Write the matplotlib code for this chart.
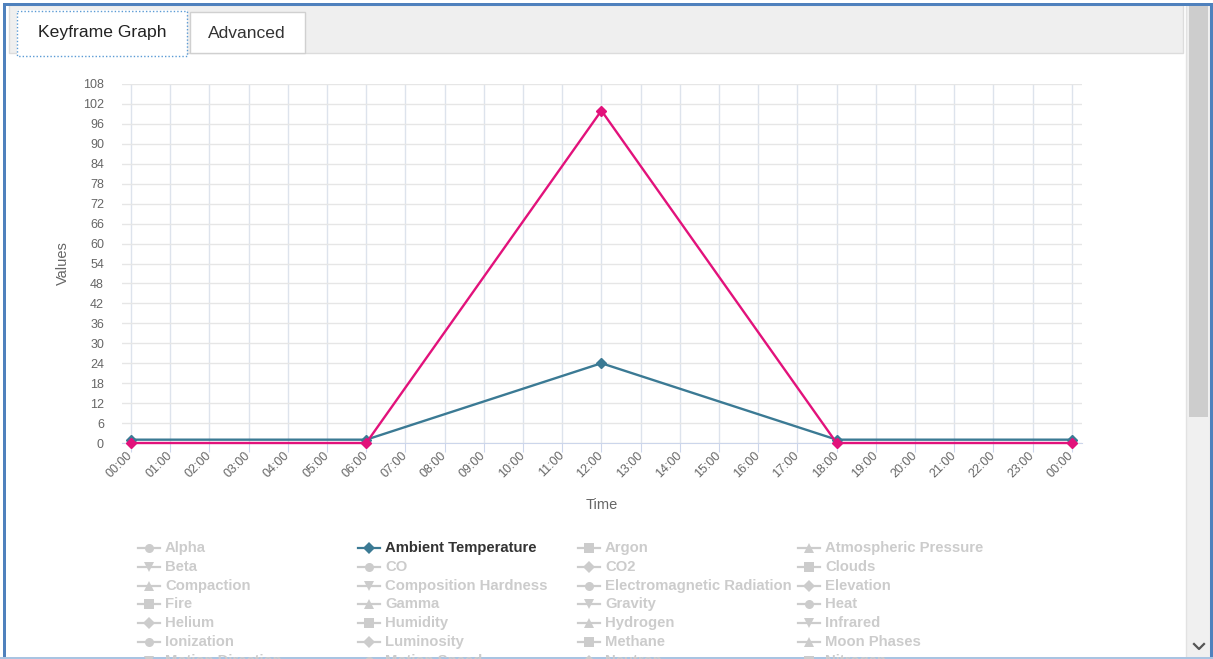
import matplotlib
matplotlib.use('Agg')
import matplotlib.pyplot as plt
from matplotlib.patches import Rectangle
from matplotlib.lines import Line2D

plt.rcParams['font.family'] = ['Liberation Sans', 'DejaVu Sans']

# chart data
hours = [0, 6, 12, 18, 24]
ambient_temperature = [1, 1, 24, 1, 1]
pink_series = [0, 0, 100, 0, 0]
hour_labels = ['%02d:00' % (h % 24) for h in range(25)]
y_ticks = list(range(0, 109, 6))

legend_names = ['Alpha', 'Ambient Temperature', 'Argon', 'Atmospheric Pressure',
                'Beta', 'CO', 'CO2', 'Clouds',
                'Compaction', 'Composition Hardness', 'Electromagnetic Radiation', 'Elevation',
                'Fire', 'Gamma', 'Gravity', 'Heat',
                'Helium', 'Humidity', 'Hydrogen', 'Infrared',
                'Ionization', 'Luminosity', 'Methane', 'Moon Phases',
                'Motion Direction', 'Motion Speed', 'Neutron', 'Nitrogen']
legend_visible = ['Ambient Temperature']
symbols = ['o', 'D', 's', '^', 'v']

teal = '#3b7a94'
pink = '#e2127b'

W, H = 1213, 659
fig = plt.figure(figsize=(W / 100, H / 100), dpi=100)
fig.patch.set_facecolor('white')

# page chrome drawn in pixel coordinates
ui = fig.add_axes([0, 0, 1, 1], zorder=0)
ui.set_xlim(0, W)
ui.set_ylim(H, 0)
ui.axis('off')

def rect(x0, y0, x1, y1, fc, ec='none', lw=1, ls='-'):
    ui.add_patch(Rectangle((x0, y0), x1 - x0, y1 - y0, facecolor=fc,
                           edgecolor=ec, lw=lw, ls=ls))

rect(9, 5, 1183, 53, '#efefef', '#dcdcdc')
rect(17, 10, 187, 57, 'white')
ui.add_patch(Rectangle((17, 11), 170, 45, facecolor='none', edgecolor='#5b9bd5',
                       lw=1, ls=(0, (1, 1.5))))
rect(190, 12, 305, 53, 'white', '#d0d0d0')
ui.text(102, 33, 'Keyframe Graph', fontsize=12.6, color='#222222', ha='center', va='center')
ui.text(247, 33, 'Advanced', fontsize=12.6, color='#333333', ha='center', va='center')

# scrollbar
rect(1186, 5, 1210, 659, '#f0f0f0', '#e2e2e2')
rect(1189, 6, 1208, 417, '#cdcdcd')
ui.add_line(Line2D([1194, 1199, 1204], [644, 649, 644], color='#555555', lw=1.6))

# outer frame
rect(3, 3, 1213, 6, '#4f81bd')
rect(3, 3, 6, 659, '#4f81bd')
rect(1210, 3, 1213, 659, '#4f81bd')
rect(0, 657, 1213, 659, '#a9c4e2')

# legend (fixed-width items, 4 per row)
for i, name in enumerate(legend_names):
    row, col = divmod(i, 4)
    x0 = 138 + 220 * col
    y0 = 548 + 18.8 * row
    on = name in legend_visible
    c = teal if on else '#cccccc'
    ui.add_line(Line2D([x0, x0 + 22], [y0, y0], color=c, lw=1.6))
    ui.add_line(Line2D([x0 + 11], [y0], marker=symbols[i % 5], color=c,
                       markersize=6.5, markeredgewidth=0))
    ui.text(x0 + 27, y0, name, fontsize=10.7, fontweight='bold',
            color='#333333' if on else '#cccccc', ha='left', va='center')

# main chart
ax = fig.add_axes([122 / W, (H - 443) / H, 960 / W, 359 / H], zorder=1)
ax.set_facecolor('none')
ax.plot(hours, ambient_temperature, color=teal, lw=1.7, marker='D', markersize=5,
        zorder=3, clip_on=False)
ax.plot(hours, pink_series, color=pink, lw=1.7, marker='D', markersize=5,
        zorder=4, clip_on=False)

ax.set_xlim(-0.23, 24.26)
ax.set_ylim(0, 108)
ax.set_xticks(range(25))
ax.set_xticklabels(hour_labels)
ax.set_yticks(y_ticks)
for lbl in ax.get_xticklabels():
    lbl.set_rotation(45)
    lbl.set_ha('right')
    lbl.set_va('center')
    lbl.set_rotation_mode('anchor')
ax.tick_params(axis='x', length=6.5, color='#ccd6eb', labelsize=9, labelcolor='#666666', pad=1)
ax.tick_params(axis='y', length=0, labelsize=9, labelcolor='#666666', pad=13)
ax.grid(axis='y', color='#e6e6e6', lw=1)
ax.grid(axis='x', color='#dde3ec', lw=1)
ax.set_axisbelow(True)
for s in ['top', 'right', 'left']:
    ax.spines[s].set_visible(False)
ax.spines['bottom'].set_color('#ccd6eb')
ax.spines['bottom'].set_zorder(2)

ax.set_xlabel('Time', fontsize=10.5, color='#666666')
ax.xaxis.set_label_coords(0.5, -0.173)
ax.xaxis.label.set_va('center')
ax.set_ylabel('Values', fontsize=10.5, color='#666666')
ax.yaxis.set_label_coords(-0.0615, 0.5)
ax.yaxis.label.set_va('center')

fig.savefig('out.png', dpi=100)
